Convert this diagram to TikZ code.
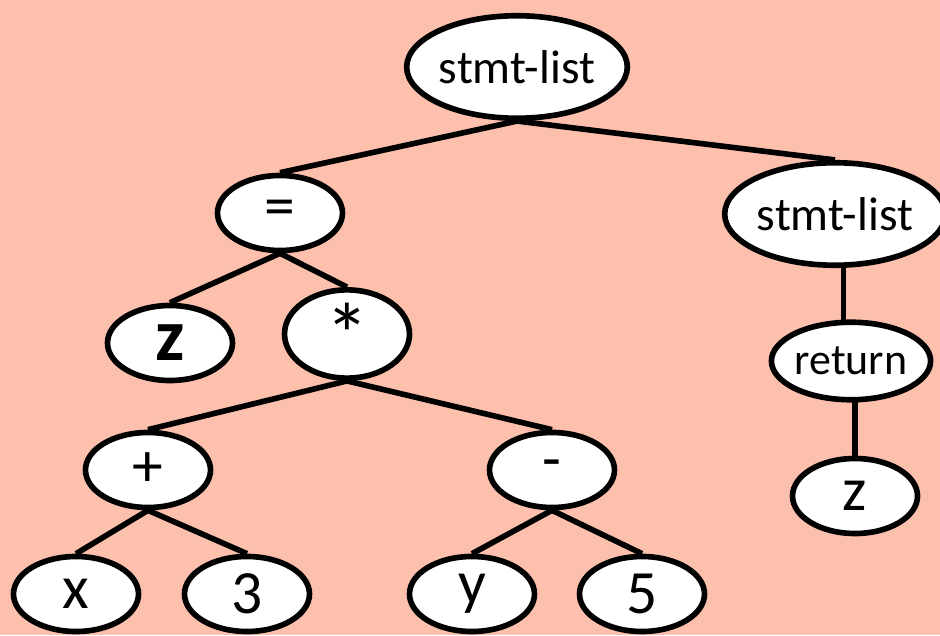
\documentclass[tikz,border=0pt]{standalone}
\usepackage{fontspec}
\setmainfont{Carlito}
\usetikzlibrary{shapes.geometric}
\definecolor{salmonbg}{RGB}{252,192,172}
\pgfdeclarelayer{background}
\pgfsetlayers{background,main}
\begin{document}
\begin{tikzpicture}[line width=3.2pt]

    %styles
    \tikzstyle{leaf}=[ellipse, draw=black, fill=white, inner sep=0pt, minimum width=2.5cm, minimum height=1.5cm, font=\fontsize{35}{38}\selectfont]
    \tikzstyle{listnode}=[leaf, minimum width=4.0cm, minimum height=2.05cm, font=\fontsize{27}{30}\selectfont]
    \tikzstyle{small}=[leaf, minimum height=1.55cm, font=\fontsize{25}{28}\selectfont]
    \tikzstyle{edge}=[draw=black, line width=3.2pt]

    \useasboundingbox (0,0) rectangle (18.8,12.7);

    % nodes
    \node[listnode] (root) at (10.34,11.36) {stmt-list};
    \node[leaf] (assign) at (5.60,8.44) {=};
    \node[listnode] (list2) at (16.70,8.42) {stmt-list};
    \node[leaf, font=\fontsize{42}{46}\bfseries] (zl) at (3.40,5.84) {z};
    \node[leaf, font=\fontsize{50}{52}\selectfont] (mul) at (6.94,6.02) {\raisebox{-2mm}{*}};
    \node[small] (ret) at (17.02,5.48) {return};
    \node[leaf] (plus) at (2.96,3.30) {+};
    \node[leaf] (minus) at (11.04,3.30) {-};
    \node[leaf] (zr) at (17.10,2.78) {z};
    \node[leaf] (x) at (1.52,0.82) {x};
    \node[leaf] (three) at (4.94,0.82) {3};
    \node[leaf] (y) at (9.44,0.82) {y};
    \node[leaf] (five) at (12.84,0.82) {5};
    % edges
    \begin{pgfonlayer}{background}
    \fill[salmonbg] (0,0) rectangle (18.8,12.7);
    \draw[edge] (root.south) -- (assign.north);
    \draw[edge] (root.south) -- (list2.north);
    \draw[edge] (assign.south) -- (zl.north);
    \draw[edge] (assign.south) -- (mul.north);
    \draw[edge] (mul.south) -- (plus.north);
    \draw[edge] (mul.south) -- (minus.north);
    \draw[edge] (plus.south) -- (x.north);
    \draw[edge] (plus.south) -- (three.north);
    \draw[edge] (minus.south) -- (y.north);
    \draw[edge] (minus.south) -- (five.north);
    \draw[edge] ([xshift=-1.5mm]ret.center) -- ([xshift=-1.5mm]ret.center |- list2.center);
    \draw[edge] (zr.center) -- (zr.center |- ret.center);
    \end{pgfonlayer}
\end{tikzpicture}
\end{document}
